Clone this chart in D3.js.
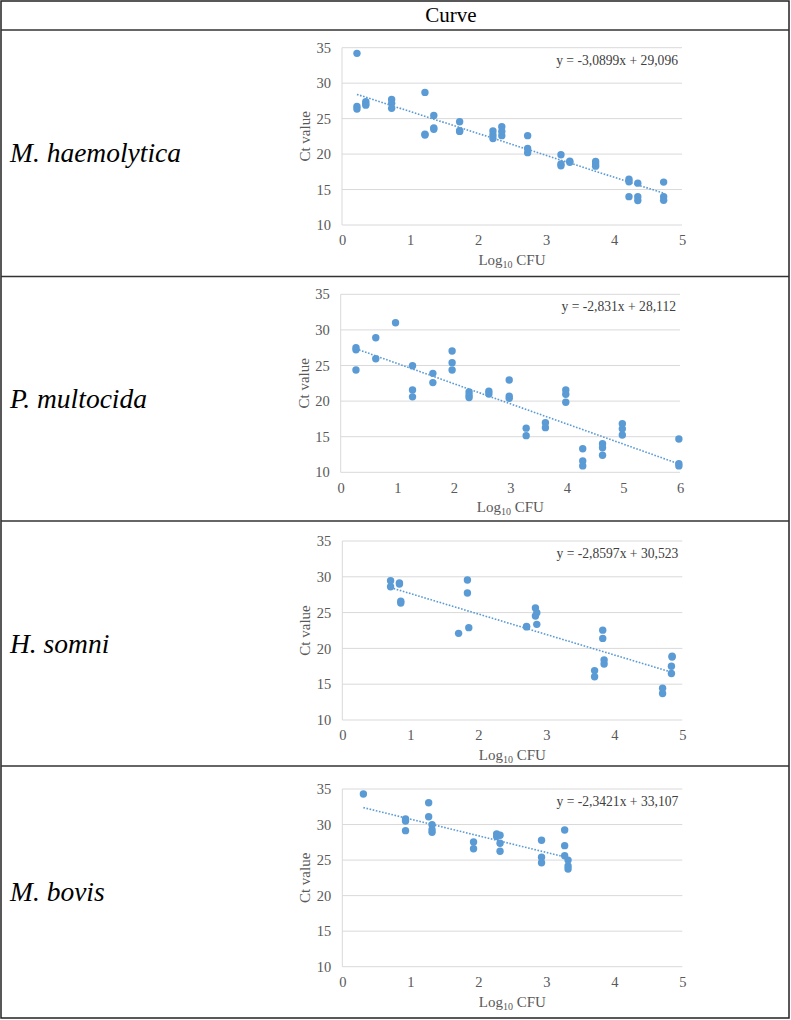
<!DOCTYPE html>
<html><head><meta charset="utf-8">
<script src="https://cdn.jsdelivr.net/npm/d3@7"></script>
<style>body{margin:0;background:#fff} svg text{font-family:"Liberation Serif","Times New Roman",Times,serif}</style>
</head><body><svg id="c" width="791" height="1020"></svg>
<script>
// ---------------- DATA ----------------
const species = ["M. haemolytica", "P. multocida", "H. somni", "M. bovis"];
const headerLabel = "Curve";

const mhaemX = [0.22,0.22,0.22,0.35,0.35,0.35,0.73,0.73,0.73,1.22,1.22,1.22,1.35,1.35,1.35,1.73,1.73,1.73,2.22,2.22,2.22,2.35,2.35,2.35,2.73,2.73,2.73,3.22,3.22,3.22,3.35,3.35,3.73,3.73,3.73,4.22,4.22,4.22,4.35,4.35,4.35,4.73,4.73,4.73];
const mhaemY = [34.2,26.7,26.35,27.4,27.1,26.9,27.7,27.15,26.45,28.7,22.8,22.7,25.45,23.7,23.5,24.55,23.3,23.2,23.25,22.7,22.2,23.85,23.2,22.6,22.6,20.8,20.2,19.9,18.6,18.35,19.0,18.85,18.95,18.6,18.3,16.45,16.1,14.0,15.9,14.0,13.45,16.05,14.0,13.5];

const pmultX = [0.27,0.27,0.27,0.62,0.62,0.97,1.27,1.27,1.27,1.63,1.63,1.97,1.97,1.97,2.27,2.27,2.27,2.62,2.62,2.98,2.98,2.98,3.28,3.28,3.62,3.62,3.98,3.98,3.98,4.28,4.28,4.28,4.63,4.63,4.63,4.98,4.98,4.98,5.98,5.98,5.98];
const pmultY = [27.5,27.2,24.37,28.9,25.95,31.0,24.97,21.56,20.6,23.9,22.6,27.04,25.4,24.37,21.3,20.85,20.5,21.4,21.0,22.96,20.7,20.4,16.2,15.15,16.97,16.27,21.56,20.96,19.83,13.3,11.6,10.9,14.0,13.45,12.4,16.83,16.1,15.24,14.68,11.2,10.9];

const hsomX = [0.71,0.71,0.84,0.84,0.86,0.86,1.84,1.84,1.71,1.86,2.71,2.71,2.84,2.84,2.86,2.86,3.71,3.71,3.83,3.83,3.85,3.85,4.71,4.71,4.84,4.84,4.85,4.85];
const hsomY = [29.46,28.6,29.13,29.0,26.6,26.34,29.55,27.74,22.1,22.9,23.08,23.0,25.64,24.52,24.99,23.36,16.9,16.05,22.55,21.4,18.38,17.82,14.45,13.7,17.5,16.5,18.9,18.8];

const mbovX = [0.31,0.93,0.93,0.93,1.27,1.27,1.32,1.32,1.32,1.93,1.93,2.27,2.27,2.32,2.32,2.32,2.93,2.93,2.93,3.27,3.27,3.27,3.32,3.32,3.32];
const mbovY = [34.3,30.78,30.5,29.14,33.07,31.1,29.98,29.28,28.9,27.55,26.6,28.67,28.3,28.5,27.36,26.24,27.78,25.4,24.63,29.23,27.03,25.6,25.0,24.17,23.75];

const slopes = [-3.0899, -2.831, -2.8597, -2.3421];
const intercepts = [29.096, 28.112, 30.523, 33.107];
const equations = ["y = -3,0899x + 29,096", "y = -2,831x + 28,112", "y = -2,8597x + 30,523", "y = -2,3421x + 33,107"];
const xMaxes = [5, 6, 5, 5];
const yTicks = [10, 15, 20, 25, 30, 35];
const yLabel = "Ct value";

// ---------------- LAYOUT ----------------
const seriesX = [mhaemX, pmultX, hsomX, mbovX];
const seriesY = [mhaemY, pmultY, hsomY, mbovY];
const rowLines = [30, 276.5, 521, 766];
const plotTop = [47.7, 294.3, 541, 789];
const plotBottom = [225, 472.3, 720, 966.7];
const plotLeft = [342, 340.7, 342.3, 342.3];
const plotRight = [682, 680, 682.3, 682.3];
const rowTop = [30, 276.5, 521, 766];
const rowBottom = [276.5, 521, 766, 1018];

const svg = d3.select("#c");
const serif = "'Liberation Serif','Times New Roman',Times,serif";
const blue = "#5b9bd5";

// table frame
svg.append("rect").attr("x", 1).attr("y", 1).attr("width", 788).attr("height", 1017)
  .attr("fill", "none").attr("stroke", "#222").attr("stroke-width", 1.5);
rowLines.forEach(y => svg.append("line").attr("x1", 1).attr("x2", 789).attr("y1", y).attr("y2", y)
  .attr("stroke", "#333").attr("stroke-width", 1.6));

svg.append("text").attr("x", 451).attr("y", 22).attr("text-anchor", "middle")
  .style("font-family", serif).attr("font-size", 21).attr("fill", "#000").text(headerLabel);

species.forEach((name, i) => {
  svg.append("text").attr("x", 10).attr("y", (rowTop[i] + rowBottom[i]) / 2 + 9)
    .style("font-family", serif).attr("font-style", "italic").attr("font-size", 27.5)
    .attr("fill", "#000").text(name);

  const x = d3.scaleLinear().domain([0, xMaxes[i]]).range([plotLeft[i], plotRight[i]]);
  const y = d3.scaleLinear().domain([10, 35]).range([plotBottom[i], plotTop[i]]);
  const g = svg.append("g");

  // gridlines
  g.selectAll("line.grid").data(yTicks).join("line").attr("class", "grid")
    .attr("x1", plotLeft[i]).attr("x2", plotRight[i])
    .attr("y1", d => y(d)).attr("y2", d => y(d))
    .attr("stroke", "#d9d9d9").attr("stroke-width", 1);
  g.append("line").attr("x1", plotLeft[i]).attr("x2", plotLeft[i])
    .attr("y1", plotTop[i]).attr("y2", plotBottom[i]).attr("stroke", "#d9d9d9");

  // axes via d3 axis generators
  const ya = d3.axisLeft(y).tickValues(yTicks).tickSize(0).tickPadding(11);
  const yg = g.append("g").attr("transform", `translate(${plotLeft[i]},0)`).call(ya);
  yg.attr("font-family", null);
  yg.select(".domain").remove();
  yg.selectAll("text").style("font-family", serif).attr("font-size", 14.5).attr("fill", "#595959");

  const xa = d3.axisBottom(x).ticks(xMaxes[i]).tickFormat(d3.format("d")).tickSize(0).tickPadding(10);
  const xg = g.append("g").attr("transform", `translate(0,${plotBottom[i]})`).call(xa);
  xg.attr("font-family", null);
  xg.select(".domain").remove();
  xg.selectAll("text").style("font-family", serif).attr("font-size", 14.5).attr("fill", "#595959");

  // axis titles
  g.append("text").attr("transform", `translate(${plotLeft[i] - 32},${(plotTop[i] + plotBottom[i]) / 2}) rotate(-90)`)
    .attr("text-anchor", "middle").style("font-family", serif).attr("font-size", 15)
    .attr("fill", "#595959").text(yLabel);
  const xt = g.append("text").attr("x", (plotLeft[i] + plotRight[i]) / 2).attr("y", plotBottom[i] + 40)
    .attr("text-anchor", "middle").style("font-family", serif).attr("font-size", 15).attr("fill", "#595959");
  xt.append("tspan").text("Log");
  xt.append("tspan").attr("font-size", 10).attr("dy", 3).text("10");
  xt.append("tspan").attr("dy", -3).text(" CFU");

  // trendline
  const xs = seriesX[i];
  const ext = d3.extent(xs);
  const line = d3.line().x(d => x(d)).y(d => y(slopes[i] * d + intercepts[i]));
  g.append("path").datum(ext).attr("d", line).attr("fill", "none")
    .attr("stroke", blue).attr("stroke-width", 1.6).attr("stroke-dasharray", "1.6,1.6");

  // points
  g.selectAll("circle").data(xs.map((v, k) => [v, seriesY[i][k]])).join("circle")
    .attr("cx", d => x(d[0])).attr("cy", d => y(d[1])).attr("r", 3.7).attr("fill", blue);

  // equation
  g.append("text").attr("x", plotRight[i] - 4).attr("y", plotTop[i] + 17).attr("text-anchor", "end")
    .style("font-family", serif).attr("font-size", 13.6).attr("fill", "#404040").text(equations[i]);
});
</script>
</body></html>
